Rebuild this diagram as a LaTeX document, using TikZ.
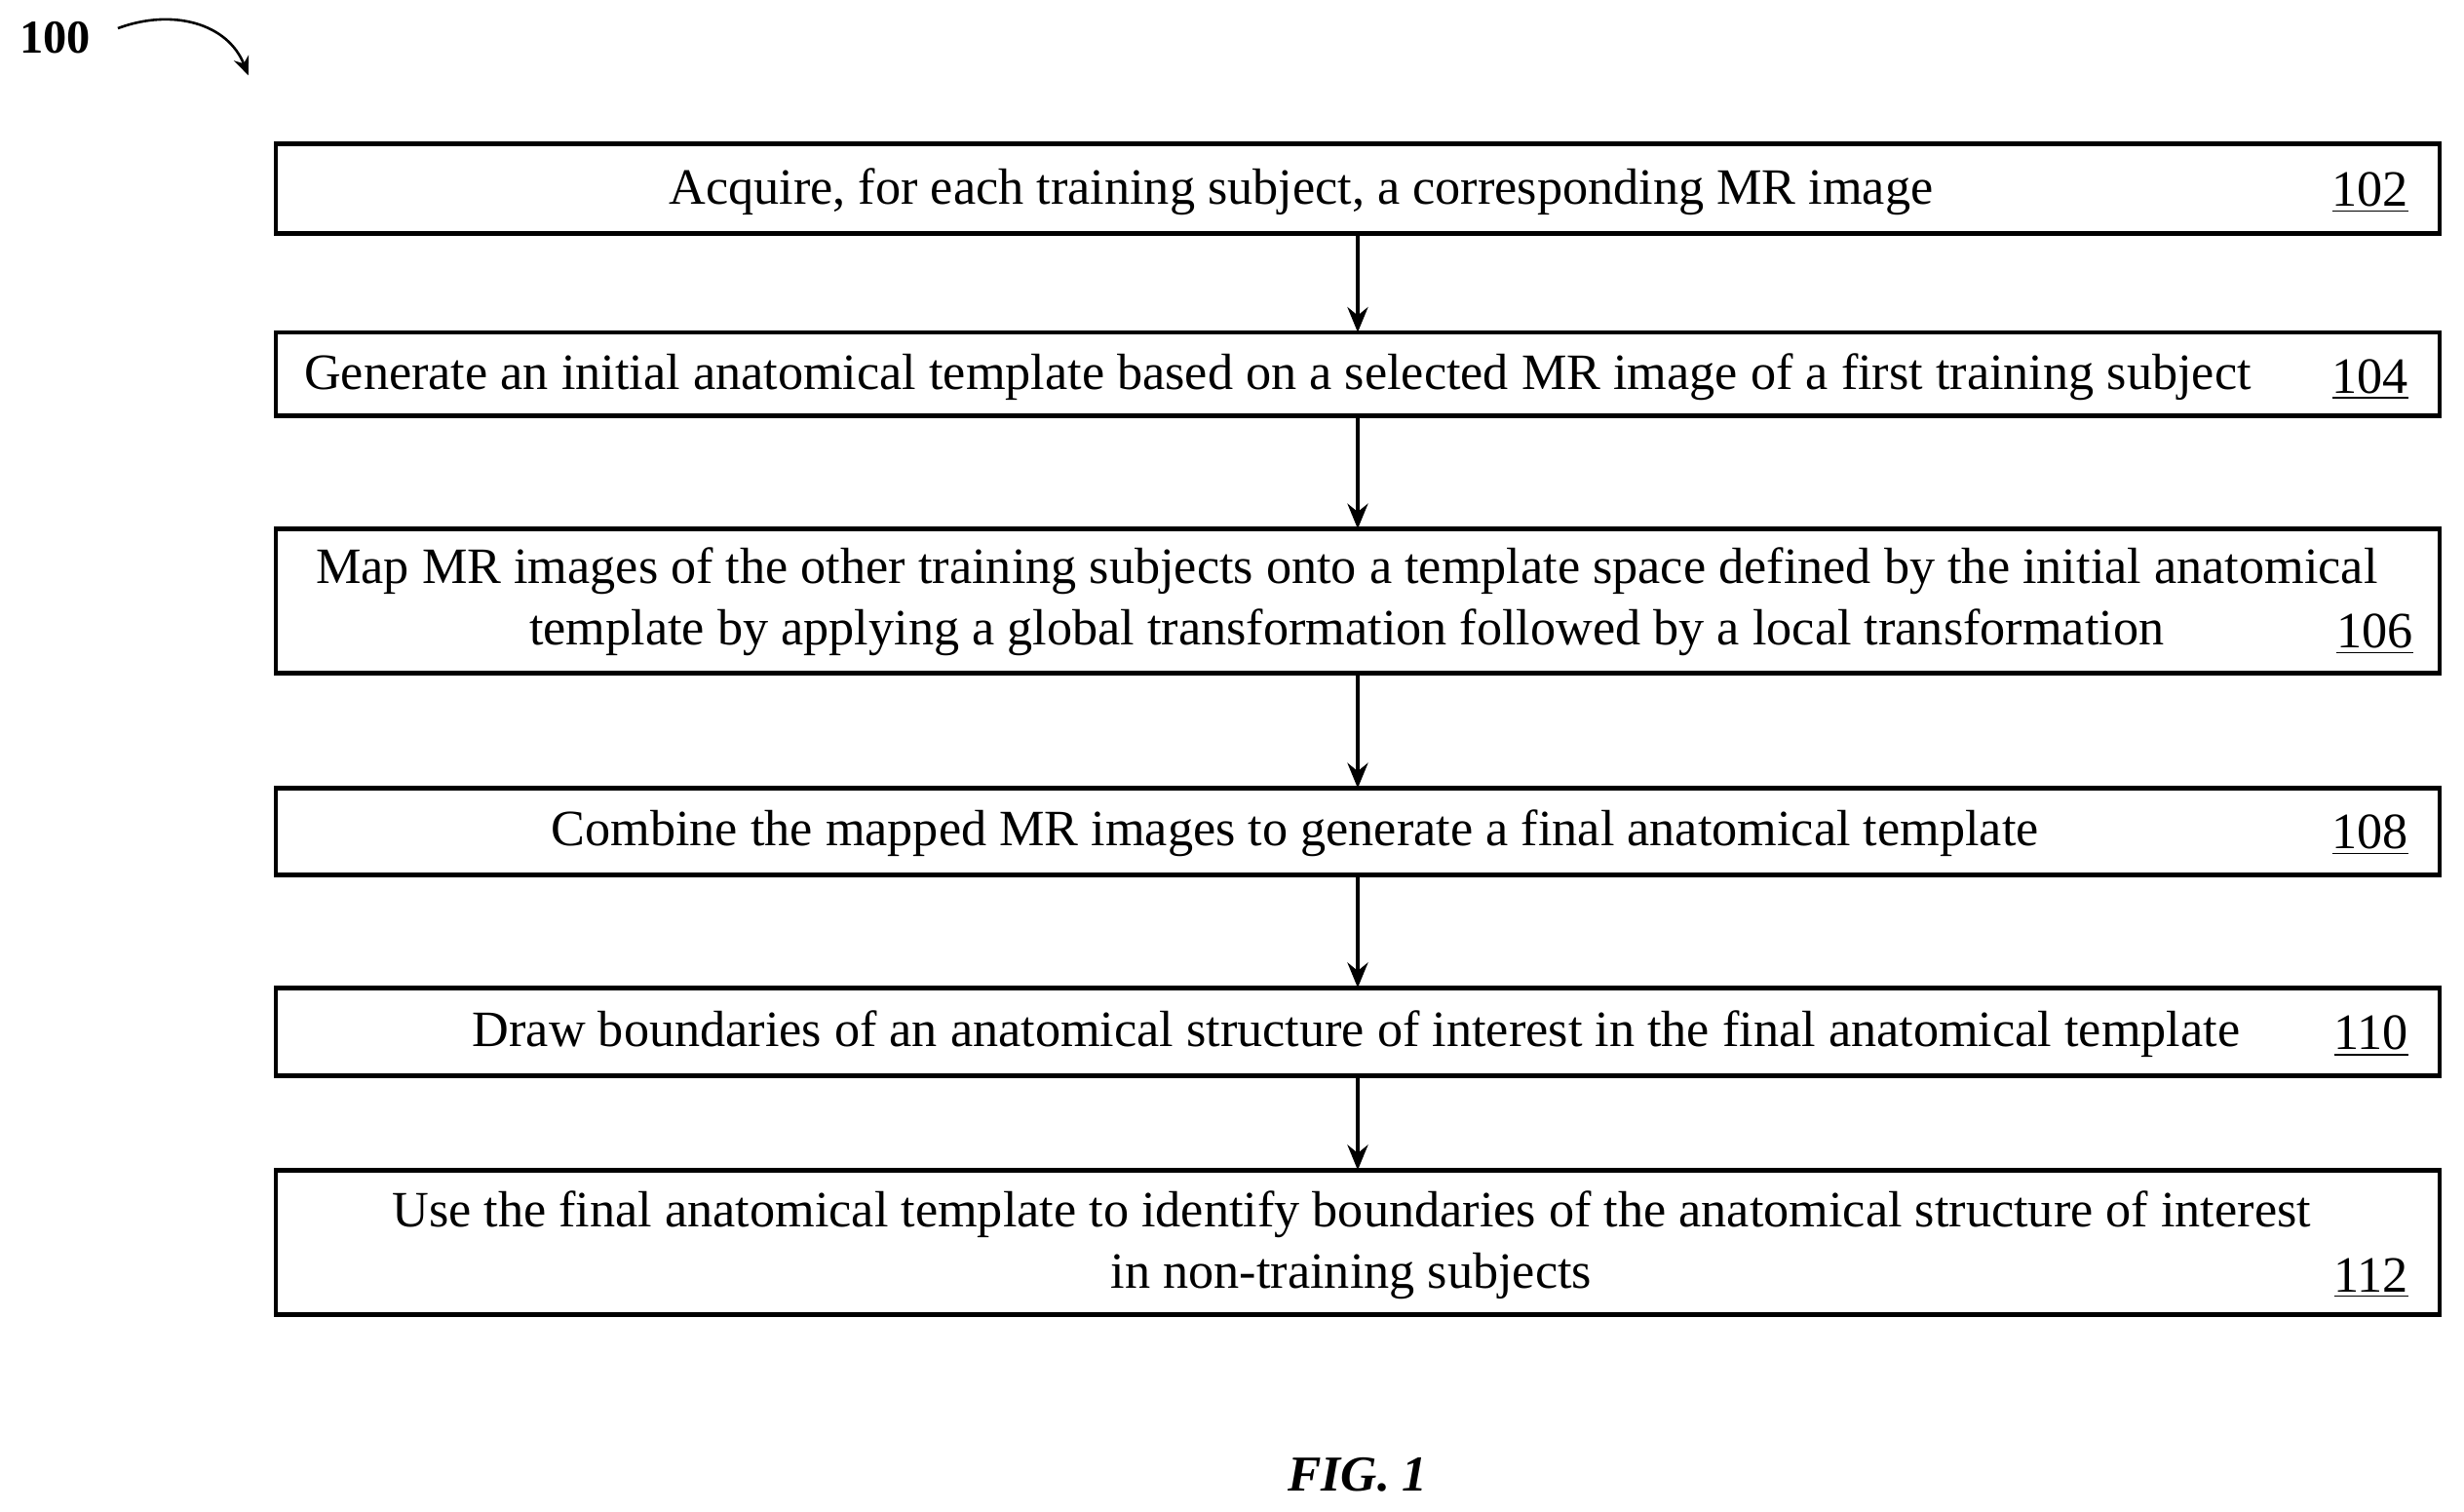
\documentclass[tikz,border=0pt]{standalone}
\usepackage{fontspec}
\setmainfont{Liberation Serif}
\usetikzlibrary{arrows.meta}
\begin{document}
\begin{tikzpicture}[x=0.5pt,y=-0.5pt,
  box/.style={draw,line width=1.5pt,outer sep=0pt,minimum width=688.5pt,anchor=north west},
  txt/.style={align=center,font=\fontsize{16.2}{19.5}\selectfont,inner sep=0pt},
  num/.style={anchor=base east,font=\fontsize{16.2}{19}\selectfont,inner sep=0pt},
  arr/.style={-{Stealth[length=8pt,width=6.5pt]},line width=1.5pt}]
\useasboundingbox (0,0) rectangle (1568,962);
\node (b1) [box,minimum height=28.5pt] at (175.5,91.5) {};
\node (b2) [box,minimum height=26.5pt] at (175.5,211.5) {};
\node (b3) [box,minimum height=46pt] at (175.5,336.5) {};
\node (b4) [box,minimum height=27.5pt] at (175.5,501.5) {};
\node (b5) [box,minimum height=28pt] at (175.5,628.5) {};
\node (b6) [box,minimum height=46pt] at (175.5,744.5) {};
\node[txt] (t1) at (828,122) {Acquire, for each training subject, a corresponding MR image};
\node[txt] (t2) at (813,240) {Generate an initial anatomical template based on a selected MR image of a first training subject};
\node[txt] (t3) at (857,383) {Map MR images of the other training subjects onto a template space defined by the initial anatomical\\template by applying a global transformation followed by a local transformation};
\node[txt] (t4) at (824,530) {Combine the mapped MR images to generate a final anatomical template};
\node[txt] (t5) at (863,658) {Draw boundaries of an anatomical structure of interest in the final anatomical template};
\node[txt] (t6) at (860,792) {Use the final anatomical template to identify boundaries of the anatomical structure of interest\\in non-training subjects};
\node[num] (n1) at (1533,131) {\underline{102}};
\node[num] (n2) at (1533,250) {\underline{104}};
\node[num] (n3) at (1536,412) {\underline{106}};
\node[num] (n4) at (1533,540) {\underline{108}};
\node[num] (n5) at (1533,668) {\underline{110}};
\node[num] (n6) at (1533,822) {\underline{112}};
\draw[arr] (b1.south) -- (b2.north);
\draw[arr] (b2.south) -- (b3.north);
\draw[arr] (b3.south) -- (b4.north);
\draw[arr] (b4.south) -- (b5.north);
\draw[arr] (b5.south) -- (b6.north);
\node[font=\bfseries\fontsize{15}{17}\selectfont,inner sep=0pt] (lbl) at (35,24) {100};
\coordinate (ae) at (158,48);
\draw[-{Stealth[length=6pt,width=5pt]},line width=0.8pt] (75,18) .. controls (110,5) and (145,15) .. (ae);
\node[font=\bfseries\itshape\fontsize{16}{17}\selectfont,inner sep=0pt] (fig) at (864,938) {FIG. 1};
\end{tikzpicture}
\end{document}
